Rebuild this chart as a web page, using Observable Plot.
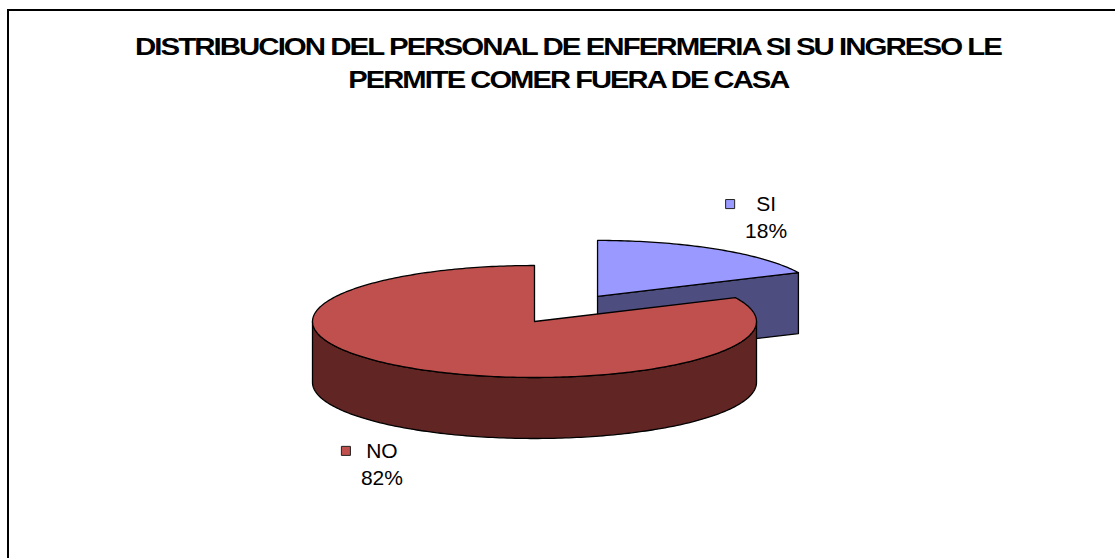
<!DOCTYPE html>
<html><head><meta charset="utf-8">
<script src="https://cdn.jsdelivr.net/npm/d3@7"></script>
<script src="https://cdn.jsdelivr.net/npm/@observablehq/plot@0.6"></script>
<style>
html,body{margin:0;padding:0;background:#fff;}
#wrap{position:relative;width:1115px;height:558px;overflow:hidden;background:#fff;font-family:"Liberation Sans",Arial,sans-serif;}
#frame{position:absolute;left:7px;top:9px;width:1300px;height:800px;border-top:2px solid #000;border-left:2px solid #000;}
#title{position:absolute;left:11px;top:30px;width:1115px;text-align:center;font-weight:bold;font-size:24px;line-height:33px;color:#000;}
#title span{display:inline-block;white-space:nowrap;letter-spacing:-1.6px;transform-origin:center;}
#chart{position:absolute;left:0;top:0;}
</style></head><body>
<div id="wrap"><div id="frame"></div><div id="chart"></div><div id="title"></div></div>
<script>
// ---- data ----
const titleLines = ["DISTRIBUCION DEL PERSONAL DE ENFERMERIA SI SU INGRESO LE", "PERMITE COMER FUERA DE CASA"];
const titleWidths = [866, 440];
const categories = ["SI", "NO"];
const values = [18, 82];
const valueLabels = ["18%", "82%"];
const topColors = ["#9999FF", "#C0504D"];
const sideColors = ["#4D4D80", "#612624"];
const explode = [0.53, 0];

// ---- title ----
const titleEl = document.getElementById("title");
titleLines.forEach((t, i) => {
  const s = document.createElement("span");
  s.textContent = t;
  titleEl.appendChild(s);
  if (i < titleLines.length - 1) titleEl.appendChild(document.createElement("br"));
});
titleEl.querySelectorAll("span").forEach((s, i) => {
  const w = s.getBoundingClientRect().width;
  s.style.transform = `scaleX(${titleWidths[i] / w})`;
});

// ---- 3D pie geometry ----
const tilt = 56 / 222, depth = 61 / 222;
const total = d3.sum(values);
const TAU = 2 * Math.PI;
function pt(cx, cy, a, drop) { return {x: cx + Math.sin(a), y: cy + tilt * Math.cos(a) - drop}; }
function arc(cx, cy, a0, a1, drop) {
  const n = Math.max(2, Math.ceil(Math.abs(a1 - a0) / (Math.PI / 180)));
  return d3.range(n + 1).map(k => pt(cx, cy, a0 + (a1 - a0) * k / n, drop));
}
let acc = 0;
const slices = categories.map((c, i) => {
  const a0 = acc / total * TAU; acc += values[i];
  const a1 = acc / total * TAU, mid = (a0 + a1) / 2;
  return {i, c, a0, a1, mid, cx: explode[i] * Math.sin(mid), cy: explode[i] * tilt * Math.cos(mid)};
});
const polys = [];
slices.slice().sort((p, q) => Math.cos(q.mid) - Math.cos(p.mid)).forEach(s => {
  const {cx, cy, a0, a1, i} = s;
  const radial = a => [{x: cx, y: cy}, pt(cx, cy, a, 0), pt(cx, cy, a, depth), {x: cx, y: cy - depth}];
  if (Math.sin(a0) < -1e-6) polys.push({pts: radial(a0), fill: sideColors[i]});
  if (Math.sin(a1) > 1e-6) polys.push({pts: radial(a1), fill: sideColors[i]});
  const lo = Math.max(a0, Math.PI / 2), hi = Math.min(a1, 3 * Math.PI / 2);
  if (hi > lo) polys.push({pts: arc(cx, cy, lo, hi, 0).concat(arc(cx, cy, lo, hi, depth).reverse()), fill: sideColors[i]});
  polys.push({pts: [{x: cx, y: cy}, ...arc(cx, cy, a0, a1, 0)], fill: topColors[i]});
});
const labelData = slices.map(s => ({
  x: s.cx + 1.35 * Math.sin(s.mid),
  y: s.cy + 1.70 * tilt * Math.cos(s.mid) - (Math.cos(s.mid) < 0 ? depth : 0),
  text: `${s.c}\n${valueLabels[s.i]}`,
  color: topColors[s.i]
}));

const chart = Plot.plot({
  width: 1115, height: 558, margin: 0,
  x: {domain: [-534 / 222, (1115 - 534) / 222], axis: null},
  y: {domain: [(321 - 558) / 222, 321 / 222], axis: null},
  style: {background: "transparent", fontFamily: "'Liberation Sans', Arial, sans-serif"},
  marks: [
    ...polys.map(p => Plot.line(p.pts, {x: "x", y: "y", fill: p.fill, stroke: "#000", strokeWidth: 1.3, curve: "linear-closed", strokeLinejoin: "round"})),
    Plot.text(labelData, {x: "x", y: "y", text: "text", fontSize: 21, lineHeight: 1.3, dx: 8, fill: "#000"}),
    Plot.dot(labelData, {x: "x", y: "y", symbol: "square", r: 5.1, fill: "color", stroke: "#222", strokeWidth: 1, dx: -28, dy: -12})
  ],
  color: {type: "identity"}
});
document.getElementById("chart").appendChild(chart);
</script>
</body></html>
